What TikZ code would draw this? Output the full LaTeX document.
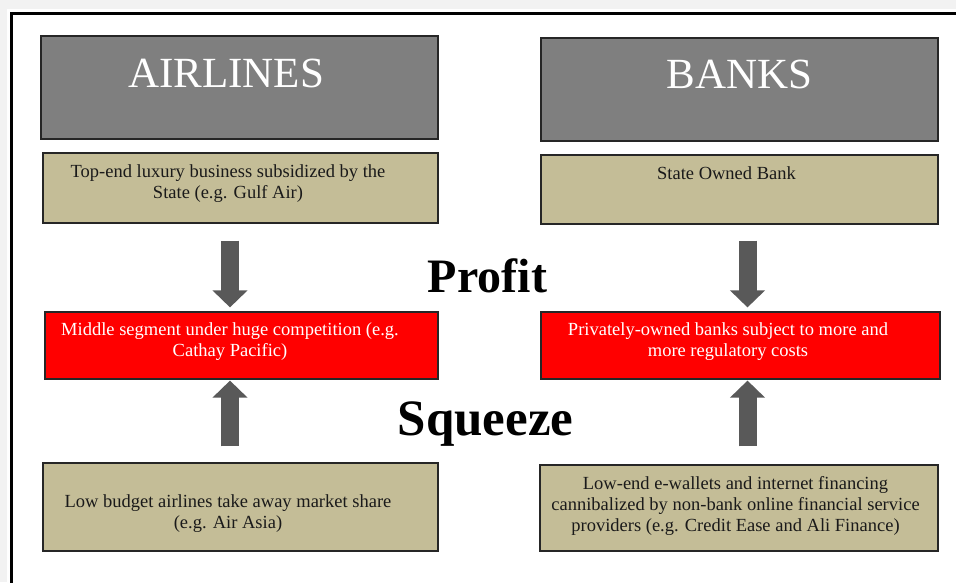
\documentclass[tikz,border=0pt]{standalone}
\usepackage{fontspec}
\setmainfont{Liberation Serif}
\usetikzlibrary{arrows.meta,positioning,calc}
\definecolor{ink}{HTML}{1A1A1A}
\definecolor{edge}{HTML}{262626}
\definecolor{headgrey}{HTML}{7F7F7F}
\definecolor{tan}{HTML}{C4BD97}
\definecolor{hot}{HTML}{FF0000}
\definecolor{shaft}{HTML}{595959}
\definecolor{pagegrey}{HTML}{F2F2F2}
\tikzset{
  box/.style 2 args={draw=edge,line width=1.2pt,minimum width=#1,
    minimum height=#2,inner sep=0pt},
  txt/.style={inner sep=0pt,align=center,anchor=base,text=ink,
    font=\fontsize{18.5}{21}\selectfont},
  bigarrow/.style={draw=shaft,line width=18pt,
    -{Triangle[width=34pt,length=17pt]}}
}

\begin{document}
\begin{tikzpicture}[x=1pt,y=-1pt]
  \useasboundingbox (0,0) rectangle (956,582);
  \clip (0,0) rectangle (956,582);
  \fill[pagegrey] (0,0) rectangle (956,582);
  \fill[white] (7,9) rectangle (990,620);
  \draw[line width=2.6pt] (11.5,13.5) rectangle (990,620);
  % headers
  \node[box={397pt}{103pt},fill=headgrey] (air) at (239.5,87.5) {};
  \node[box={397pt}{103pt},fill=headgrey] (bank) at (739.5,89.5) {};
  \node[txt,text=white,font=\fontsize{43}{43}\selectfont] (airT)
       at ([shift={(-13.5,52)}]air.north) {AIRLINES};
  \node[txt,text=white,font=\fontsize{43}{43}\selectfont] (bankT)
       at ([shift={(0,51)}]bank.north) {BANKS};
  % airline segments (base anchor = last line)
  \node[box={395pt}{70pt},fill=tan] (airtop) at (240.5,188) {};
  \node[box={393pt}{67pt},fill=hot] (airmid) at (241.5,345.5) {};
  \node[box={395pt}{88pt},fill=tan] (airlow) at (240.5,507) {};
  \node[txt] (airtopT) at ([shift={(-12.5,46)}]airtop.north)
       {Top-end luxury business subsidized by the\\State (e.g. Gulf Air)};
  \node[txt,text=white] (airmidT) at ([shift={(-11.5,45)}]airmid.north)
       {Middle segment under huge competition (e.g.\\Cathay Pacific)};
  \node[txt] (airlowT) at ([shift={(-12.5,66)}]airlow.north)
       {Low budget airlines take away market share\\(e.g. Air Asia)};
  % bank segments
  \node[box={397pt}{69pt},fill=tan] (banktop) at (739.5,189.5) {};
  \node[box={399pt}{67pt},fill=hot] (bankmid) at (740.5,345.5) {};
  \node[box={398pt}{86pt},fill=tan] (banklow) at (739,508) {};
  \node[txt] (banktopT) at ([shift={(-13,25)}]banktop.north)
       {State Owned Bank};
  \node[txt,text=white] (bankmidT) at ([shift={(-12.5,45)}]bankmid.north)
       {Privately-owned banks subject to more and\\more regulatory costs};
  \node[txt] (banklowT) at ([shift={(-3.5,67)}]banklow.north)
       {Low-end e-wallets and internet financing\\cannibalized by non-bank online financial service\\providers (e.g. Credit Ease and Ali Finance)};
  % middle words
  \node[txt,font=\bfseries\fontsize{48}{48}\selectfont,text=black] (profit)
       at (487.5,292) {Profit};
  \node[txt,font=\bfseries\fontsize{51}{51}\selectfont,text=black] (squeeze)
       at (485.5,435) {Squeeze};
  % block arrows
  \coordinate (arrL) at (230,0);
  \coordinate (arrR) at (747.5,0);
  \draw[bigarrow,shorten <=17pt,shorten >=4pt]
       (airtop.south -| arrL) -- (airmid.north -| arrL);
  \draw[bigarrow,shorten <=16pt,shorten >=1pt]
       (airlow.north -| arrL) -- (airmid.south -| arrL);
  \draw[bigarrow,shorten <=16pt,shorten >=4pt]
       (banktop.south -| arrR) -- (bankmid.north -| arrR);
  \draw[bigarrow,shorten <=18pt,shorten >=1pt]
       (banklow.north -| arrR) -- (bankmid.south -| arrR);
\end{tikzpicture}
\end{document}
